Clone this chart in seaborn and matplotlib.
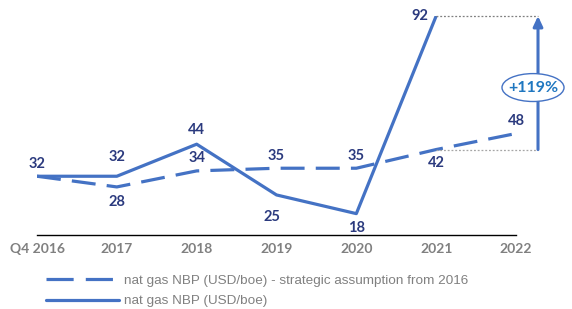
import matplotlib.pyplot as plt
import seaborn as sns
import pandas as pd
from matplotlib.patches import Ellipse
from matplotlib.lines import Line2D

# data
years = ['Q4 2016', '2017', '2018', '2019', '2020', '2021', '2022']
nbp_actual = [32, 32, 44, 25, 18, 92]
nbp_assumption = [32, 28, 34, 35, 35, 42, 48]
change_label = '+119%'

blue = '#4472C4'
navy = '#2B3A7E'
grey = '#808080'

sns.set_style('white')
plt.rcParams['font.family'] = ['Lato', 'DejaVu Sans']

df_act = pd.DataFrame({'x': range(len(nbp_actual)), 'value': nbp_actual})
df_ass = pd.DataFrame({'x': range(len(nbp_assumption)), 'value': nbp_assumption})

fig = plt.figure(figsize=(5.72, 3.09), dpi=100)
ax = fig.add_axes([37 / 572, 1 - 235 / 309, (516 - 37) / 572, (235 - 16) / 309])

sns.lineplot(data=df_ass, x='x', y='value', ax=ax, color=blue, linewidth=2.3,
             dashes=False, legend=False)
ax.lines[-1].set_dashes([7.5, 3.5])
ax.lines[-1].set_dash_capstyle('butt')
sns.lineplot(data=df_act, x='x', y='value', ax=ax, color=blue, linewidth=2.3,
             legend=False)

ax.set_xlim(0, len(years) - 1)
ax.set_ylim(10, 92)
ax.set_xticks(range(len(years)))
ax.set_xticklabels(years, fontsize=10, fontweight='bold', color=grey)
ax.set_yticks([])
ax.set_xlabel('')
ax.set_ylabel('')
ax.tick_params(axis='x', length=0, pad=6)
for s in ['top', 'left', 'right']:
    ax.spines[s].set_visible(False)
ax.spines['bottom'].set_color('black')
ax.spines['bottom'].set_linewidth(1.0)

# data labels (offsets in points)
act_off = [(0, 9), (0, 14), (0, 10), (-3, -16), (0, -10), (-12, 0)]
ass_off = [None, (0, -11), (0, 9), (0, 9), (0, 9), (0, -10), (0, 9)]
for i, v in enumerate(nbp_actual):
    dx, dy = act_off[i]
    ax.annotate(str(v), (i, v), xytext=(dx, dy), textcoords='offset points',
                ha='center', va='center', fontsize=10.5, fontweight='bold',
                color=navy, annotation_clip=False)
for i, v in enumerate(nbp_assumption):
    if ass_off[i] is None:
        continue
    dx, dy = ass_off[i]
    ax.annotate(str(v), (i, v), xytext=(dx, dy), textcoords='offset points',
                ha='center', va='center', fontsize=10.5, fontweight='bold',
                color=navy, annotation_clip=False)

# change arrow to the right
xa = len(years) - 1 + (538 - 516) / 79.8
top = nbp_actual[-1]
low = nbp_assumption[len(nbp_actual) - 1]
x0 = len(nbp_actual) - 1
ax.plot([x0, xa], [top, top], ls=(0, (1.5, 1.5)), color='#7F7F7F', lw=0.9, clip_on=False)
ax.plot([x0, xa], [low, low], ls=(0, (1.5, 1.5)), color='#A6A6A6', lw=0.9, clip_on=False)
ax.annotate('', xy=(xa, top), xytext=(xa, low),
            arrowprops=dict(arrowstyle='-|>,head_width=0.28,head_length=0.6',
                            color=blue, lw=2.2, shrinkA=0, shrinkB=0),
            annotation_clip=False)
yc = 32 + (176 - 87) / 2.68
xc = len(years) - 1 + (533 - 516) / 79.8
ell = Ellipse((xc, yc), width=62 / 79.8, height=28 / 2.68, facecolor='white',
              edgecolor=blue, lw=1.0, clip_on=False, zorder=5)
ax.add_patch(ell)
ax.text(xc, yc, change_label, ha='center', va='center', fontsize=11.5,
        fontweight='bold', color='#1F77C0', zorder=6, clip_on=False)

# legend
handles = [Line2D([0], [0], color=blue, lw=2.3, dashes=[8.5, 3.8]),
           Line2D([0], [0], color=blue, lw=2.3)]
labels = ['nat gas NBP (USD/boe) - strategic assumption from 2016',
          'nat gas NBP (USD/boe)']
leg = fig.legend(handles, labels, loc='center left', bbox_to_anchor=(34 / 572, 1 - 291 / 309),
                 frameon=False, handlelength=5.4, handletextpad=0.35,
                 labelspacing=0.6, prop={'family': 'Liberation Sans', 'size': 9.7})
for t in leg.get_texts():
    t.set_color(grey)

fig.savefig('out.png', dpi=100)
